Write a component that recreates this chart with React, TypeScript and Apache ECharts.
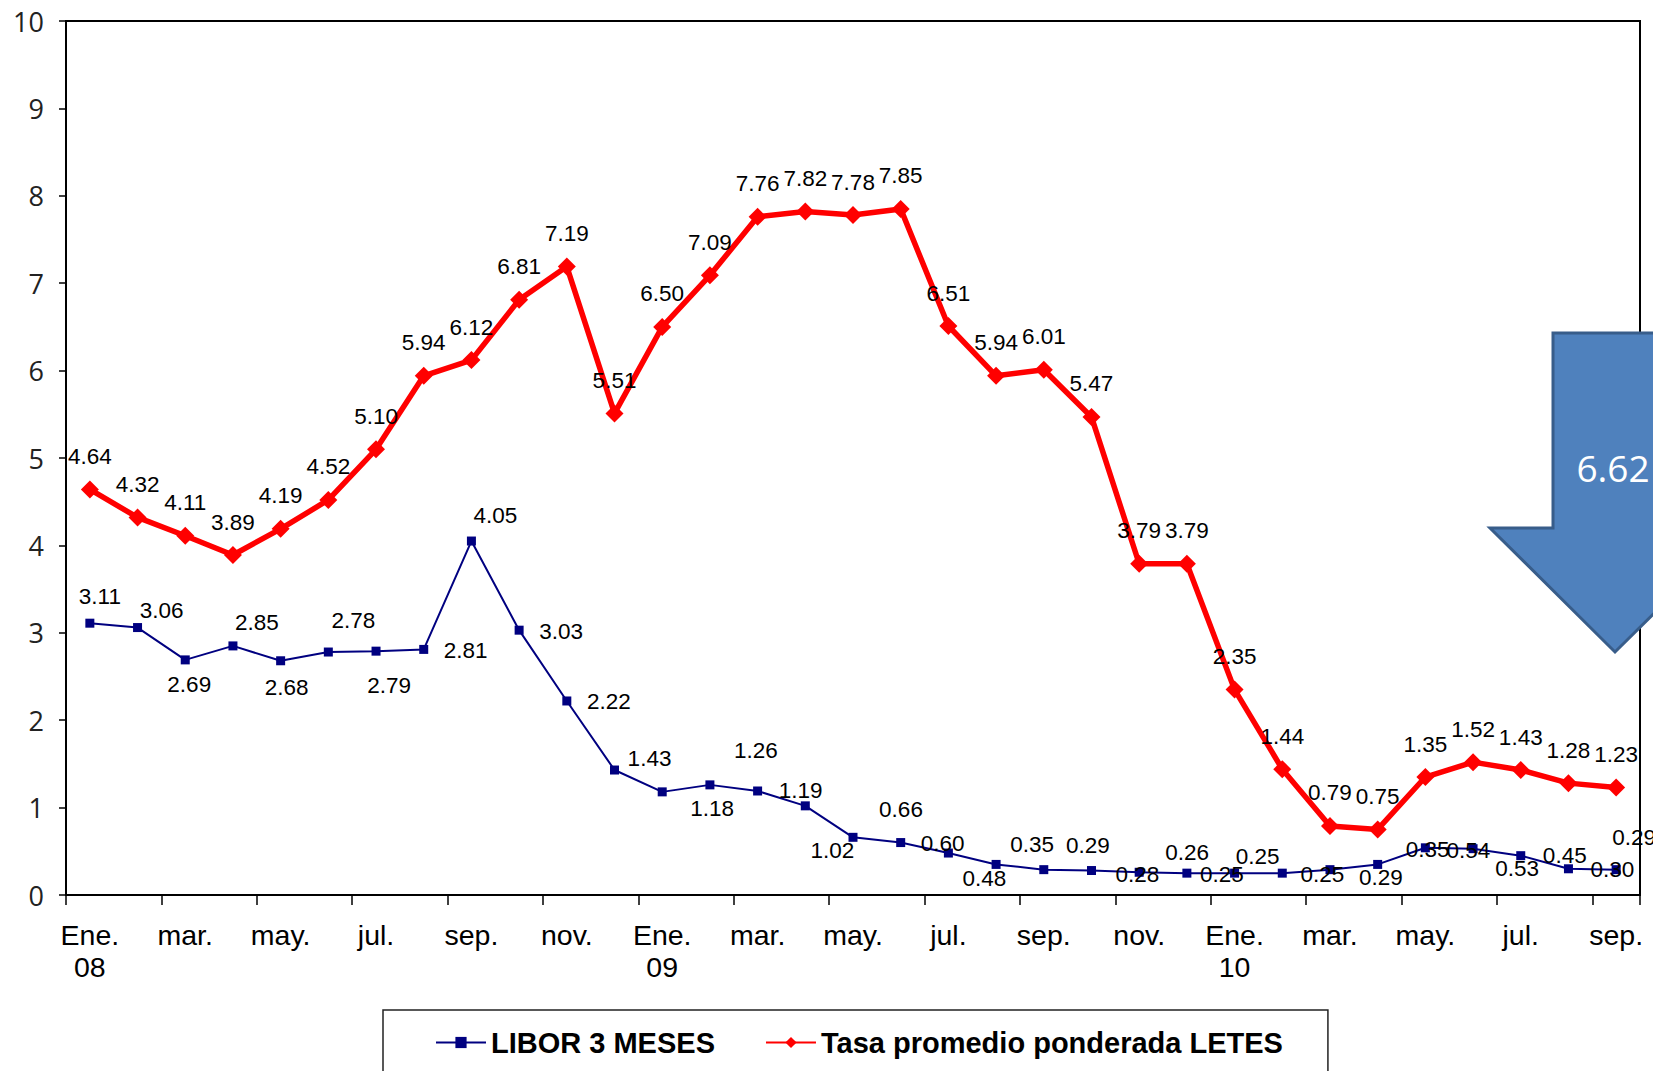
import React, { useEffect, useRef } from 'react';
import * as echarts from 'echarts';

const categories = [
  'Ene.\n08', 'feb.', 'mar.', 'abr.', 'may.', 'jun.', 'jul.', 'ago.', 'sep.', 'oct.', 'nov.', 'dic.',
  'Ene.\n09', 'feb.', 'mar.', 'abr.', 'may.', 'jun.', 'jul.', 'ago.', 'sep.', 'oct.', 'nov.', 'dic.',
  'Ene.\n10', 'feb.', 'mar.', 'abr.', 'may.', 'jun.', 'jul.', 'ago.', 'sep.'
];

const libor = [
  3.11, 3.06, 2.69, 2.85, 2.68, 2.78, 2.79, 2.81, 4.05, 3.03, 2.22, 1.43,
  1.18, 1.26, 1.19, 1.02, 0.66, 0.60, 0.48, 0.35, 0.29, 0.28, 0.26, 0.25,
  0.25, 0.25, 0.29, 0.35, 0.54, 0.53, 0.45, 0.30, 0.29
];

const letes = [
  4.64, 4.32, 4.11, 3.89, 4.19, 4.52, 5.10, 5.94, 6.12, 6.81, 7.19, 5.51,
  6.50, 7.09, 7.76, 7.82, 7.78, 7.85, 6.51, 5.94, 6.01, 5.47, 3.79, 3.79,
  2.35, 1.44, 0.79, 0.75, 1.35, 1.52, 1.43, 1.28, 1.23
];

const seriesNames = ['LIBOR 3 MESES', 'Tasa promedio ponderada LETES'];
const arrowText = '6.62';

// label placement (px offsets from each LIBOR point)
const liborLabelOffsets: [number, number][] = [
  [10, -27], [24, -17], [4, 25], [24, -23], [6, 27], [25, -32], [13, 34], [42, 1],
  [24, -26], [42, 1], [42, 1], [35, -12], [50, 17], [46, -34], [43, 0], [27, 45],
  [48, -28], [42, 1], [36, 25], [36, -20], [44, -24], [46, 4], [48, -20], [35, 1],
  [23, -17], [40, 1], [51, 8], [50, -15], [43, 3], [44, 20], [44, 0], [44, 1], [18, -32]
];

export default function App() {
  const ref = useRef<HTMLDivElement>(null);
  useEffect(() => {
    const chart = echarts.init(ref.current!, null, { renderer: 'svg' });
    const labelFont = { fontFamily: 'Liberation Sans', fontSize: 22.5, color: '#000' };
    chart.setOption({
      animation: false,
      backgroundColor: '#fff',
      grid: {
        left: 66, right: 13, top: 21, bottom: 176,
        show: true, borderColor: '#000', borderWidth: 2, backgroundColor: 'transparent'
      },
      legend: {
        data: seriesNames,
        left: 383, top: 1010,
        padding: [18, 45, 40, 52],
        itemGap: 50, itemWidth: 50, itemHeight: 14,
        borderColor: '#222', borderWidth: 1.5,
        textStyle: { fontFamily: 'Liberation Sans', fontSize: 29, fontWeight: 'bold', color: '#000' }
      },
      xAxis: {
        type: 'category',
        data: categories,
        boundaryGap: true,
        axisLine: { lineStyle: { color: '#000', width: 2 } },
        axisTick: { show: true, interval: 1, length: 10, lineStyle: { color: '#000', width: 1.5 } },
        axisLabel: {
          interval: 1, margin: 24,
          fontFamily: 'Liberation Sans', fontSize: 28.5, lineHeight: 32, color: '#000'
        },
        splitLine: { show: false }
      },
      yAxis: {
        type: 'value', min: 0, max: 10, interval: 1,
        axisLine: { show: true, lineStyle: { color: '#000', width: 2 } },
        axisTick: { show: true, length: 7, lineStyle: { color: '#000', width: 1.5 } },
        axisLabel: { margin: 22, fontFamily: 'Open Sans', fontSize: 27, color: '#222' },
        splitLine: { show: false }
      },
      series: [
        {
          name: seriesNames[0],
          type: 'line',
          data: libor.map((v, i) => ({ value: v, label: { offset: liborLabelOffsets[i] } })),
          symbol: 'rect', symbolSize: 9,
          lineStyle: { color: '#000080', width: 2 },
          itemStyle: { color: '#000080' },
          label: {
            show: true, position: 'inside', ...labelFont,
            formatter: (p: any) => Number(p.value).toFixed(2)
          },
          z: 3
        },
        {
          name: seriesNames[1],
          type: 'line',
          data: letes,
          symbol: 'diamond', symbolSize: 18,
          lineStyle: { color: '#ff0000', width: 5.5 },
          itemStyle: { color: '#ff0000' },
          label: {
            show: true, position: 'inside', offset: [0, -33], ...labelFont,
            formatter: (p: any) => Number(p.value).toFixed(2)
          },
          z: 2
        }
      ],
      graphic: [
        {
          type: 'polygon',
          z: 100,
          shape: {
            points: [
              [1553, 333], [1680, 333], [1680, 528], [1740, 528],
              [1615, 652], [1490, 528], [1553, 528]
            ]
          },
          style: { fill: '#4f81bd', stroke: '#385d8a', lineWidth: 3 }
        },
        {
          type: 'text',
          z: 101,
          x: 1613, y: 467,
          style: {
            text: arrowText, fill: '#fff', fontFamily: 'Open Sans', fontSize: 37,
            align: 'center', verticalAlign: 'middle'
          }
        }
      ]
    });
    return () => chart.dispose();
  }, []);
  return (
    <div
      ref={ref}
      style={{ position: 'absolute', left: 0, top: 0, width: 1653, height: 1071, background: '#fff' }}
    />
  );
}
